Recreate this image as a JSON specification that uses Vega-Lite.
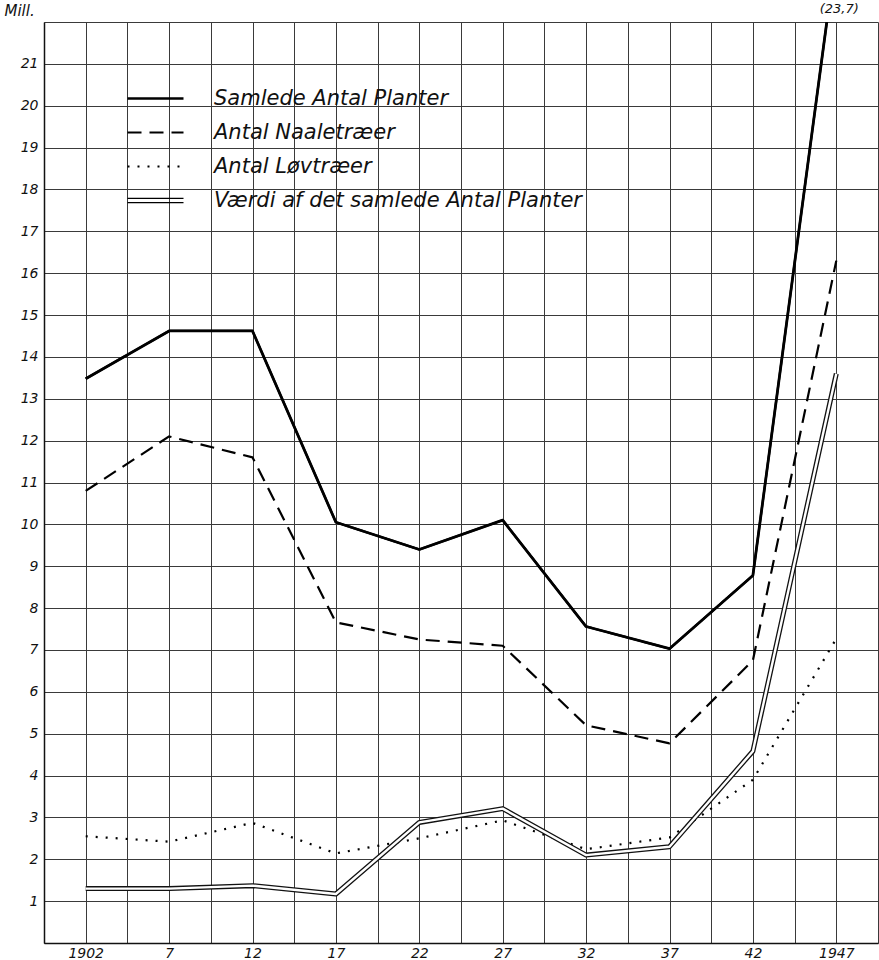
{
  "$schema": "https://vega.github.io/schema/vega-lite/v6.json",
  "width": 834,
  "height": 921,
  "autosize": {"type": "none"},
  "padding": {"left": 44, "top": 22, "right": 1, "bottom": 17},
  "background": "white",
  "config": {
    "view": {"stroke": null},
    "font": "DejaVu Sans",
    "axis": {
      "gridColor": "#3a3a3a",
      "gridOpacity": 1,
      "gridWidth": 1,
      "domainColor": "#111111",
      "domainWidth": 1.5,
      "ticks": false,
      "labelColor": "#111111",
      "labelFont": "DejaVu Sans",
      "labelFontStyle": "italic",
      "labelFontSize": 14
    }
  },
  "datasets": {
    "series": [
      {"year": 1902, "series": "Samlede Antal Planter", "value": 13.48},
      {"year": 1907, "series": "Samlede Antal Planter", "value": 14.62},
      {"year": 1912, "series": "Samlede Antal Planter", "value": 14.62},
      {"year": 1917, "series": "Samlede Antal Planter", "value": 10.05},
      {"year": 1922, "series": "Samlede Antal Planter", "value": 9.4},
      {"year": 1927, "series": "Samlede Antal Planter", "value": 10.1},
      {"year": 1932, "series": "Samlede Antal Planter", "value": 7.56},
      {"year": 1937, "series": "Samlede Antal Planter", "value": 7.03},
      {"year": 1942, "series": "Samlede Antal Planter", "value": 8.78},
      {"year": 1947, "series": "Samlede Antal Planter", "value": 23.7},
      {"year": 1902, "series": "Antal Naaletræer", "value": 10.8},
      {"year": 1907, "series": "Antal Naaletræer", "value": 12.1},
      {"year": 1912, "series": "Antal Naaletræer", "value": 11.6},
      {"year": 1917, "series": "Antal Naaletræer", "value": 7.66},
      {"year": 1922, "series": "Antal Naaletræer", "value": 7.25},
      {"year": 1927, "series": "Antal Naaletræer", "value": 7.1},
      {"year": 1932, "series": "Antal Naaletræer", "value": 5.2},
      {"year": 1937, "series": "Antal Naaletræer", "value": 4.77},
      {"year": 1942, "series": "Antal Naaletræer", "value": 6.75},
      {"year": 1947, "series": "Antal Naaletræer", "value": 16.3},
      {"year": 1902, "series": "Antal Løvtræer", "value": 2.55},
      {"year": 1907, "series": "Antal Løvtræer", "value": 2.42},
      {"year": 1912, "series": "Antal Løvtræer", "value": 2.87},
      {"year": 1917, "series": "Antal Løvtræer", "value": 2.14},
      {"year": 1922, "series": "Antal Løvtræer", "value": 2.5},
      {"year": 1927, "series": "Antal Løvtræer", "value": 2.93},
      {"year": 1932, "series": "Antal Løvtræer", "value": 2.24},
      {"year": 1937, "series": "Antal Løvtræer", "value": 2.52},
      {"year": 1942, "series": "Antal Løvtræer", "value": 3.9},
      {"year": 1947, "series": "Antal Løvtræer", "value": 7.27},
      {"year": 1902, "series": "Værdi af det samlede Antal Planter", "value": 1.3},
      {"year": 1907, "series": "Værdi af det samlede Antal Planter", "value": 1.3},
      {"year": 1912, "series": "Værdi af det samlede Antal Planter", "value": 1.37},
      {"year": 1917, "series": "Værdi af det samlede Antal Planter", "value": 1.17},
      {"year": 1922, "series": "Værdi af det samlede Antal Planter", "value": 2.88},
      {"year": 1927, "series": "Værdi af det samlede Antal Planter", "value": 3.21},
      {"year": 1932, "series": "Værdi af det samlede Antal Planter", "value": 2.1},
      {"year": 1937, "series": "Værdi af det samlede Antal Planter", "value": 2.3},
      {"year": 1942, "series": "Værdi af det samlede Antal Planter", "value": 4.58},
      {"year": 1947, "series": "Værdi af det samlede Antal Planter", "value": 13.6}
    ],
    "note": [{"year": 1947, "text": "(23,7)"}]
  },
  "layer": [
    {
      "data": {"name": "series"},
      "transform": [{"filter": "datum.series !== 'Værdi af det samlede Antal Planter'"}],
      "mark": {"type": "line", "clip": true, "color": "black", "strokeJoin": "round", "strokeWidth": 2.2},
      "encoding": {
        "x": {
          "field": "year",
          "type": "quantitative",
          "scale": {"domain": [1899.5, 1949.5], "nice": false, "zero": false},
          "axis": {
            "title": null,
            "values": [1899.5, 1902, 1904.5, 1907, 1909.5, 1912, 1914.5, 1917, 1919.5, 1922, 1924.5, 1927, 1929.5, 1932, 1934.5, 1937, 1939.5, 1942, 1944.5, 1947, 1949.5],
            "labelExpr": "datum.value == 1902 ? '1902' : datum.value == 1947 ? '1947' : ((datum.value - 1902) % 5 == 0 ? '' + (datum.value - 1900) : '')",
            "labelPadding": 3,
            "labelFlush": false,
            "labelOverlap": false
          }
        },
        "y": {
          "field": "value",
          "type": "quantitative",
          "scale": {"domain": [0, 22], "nice": false, "zero": true},
          "axis": {
            "title": "Mill.",
            "titleAngle": 0,
            "titleAlign": "left",
            "titleBaseline": "middle",
            "titleX": -40,
            "titleY": -12,
            "titleFont": "DejaVu Sans",
            "titleFontStyle": "italic",
            "titleFontWeight": "normal",
            "titleFontSize": 15,
            "titleColor": "#111111",
            "values": [0, 1, 2, 3, 4, 5, 6, 7, 8, 9, 10, 11, 12, 13, 14, 15, 16, 17, 18, 19, 20, 21, 22],
            "labelExpr": "datum.value == 0 || datum.value == 22 ? '' : datum.label",
            "labelPadding": 6,
            "labelOverlap": false
          }
        },
        "strokeDash": {
          "field": "series",
          "type": "nominal",
          "scale": {
            "domain": ["Samlede Antal Planter", "Antal Naaletræer", "Antal Løvtræer", "Værdi af det samlede Antal Planter"],
            "range": [[1, 0], [14, 8], [2, 8], [1, 0]]
          },
          "legend": {
            "orient": "none",
            "legendX": 101,
            "legendY": 66,
            "title": null,
            "symbolSize": 400,
            "symbolStrokeColor": "black",
            "symbolStrokeWidth": 2,
            "symbolFillColor": "transparent",
            "labelFont": "DejaVu Sans",
            "labelFontStyle": "italic",
            "labelFontSize": 21,
            "labelColor": "#111111",
            "labelOffset": 48,
            "labelLimit": 0,
            "rowPadding": 12,
            "encode": {
              "symbols": {
                "update": {
                  "shape": {"signal": "datum.value === 'Værdi af det samlede Antal Planter' ? 'M-2.8,-0.22H2.8M-2.8,0.22H2.8' : 'M-2.8,0H2.8'"},
                  "strokeWidth": {"signal": "datum.value === 'Værdi af det samlede Antal Planter' ? 1.2 : (datum.value === 'Samlede Antal Planter' ? 2.6 : 2)"}
                }
              }
            }
          }
        }
      }
    },
    {
      "data": {"name": "series"},
      "transform": [{"filter": "datum.series === 'Samlede Antal Planter'"}],
      "mark": {"type": "line", "clip": true, "color": "black", "strokeWidth": 2.8, "strokeJoin": "round"},
      "encoding": {
        "x": {"field": "year", "type": "quantitative"},
        "y": {"field": "value", "type": "quantitative"}
      }
    },
    {
      "data": {"name": "series"},
      "transform": [{"filter": "datum.series === 'Værdi af det samlede Antal Planter'"}],
      "mark": {"type": "line", "clip": true, "color": "#111111", "strokeWidth": 5, "strokeJoin": "round"},
      "encoding": {
        "x": {"field": "year", "type": "quantitative"},
        "y": {"field": "value", "type": "quantitative"}
      }
    },
    {
      "data": {"name": "series"},
      "transform": [{"filter": "datum.series === 'Værdi af det samlede Antal Planter'"}],
      "mark": {"type": "line", "clip": true, "color": "white", "strokeWidth": 2.4, "strokeJoin": "round"},
      "encoding": {
        "x": {"field": "year", "type": "quantitative"},
        "y": {"field": "value", "type": "quantitative"}
      }
    },
    {
      "data": {"name": "note"},
      "mark": {"type": "text", "fontStyle": "italic", "fontSize": 13, "dy": -13, "dx": 3, "color": "#111111"},
      "encoding": {
        "x": {"field": "year", "type": "quantitative"},
        "y": {"datum": 22},
        "text": {"field": "text"}
      }
    }
  ]
}
